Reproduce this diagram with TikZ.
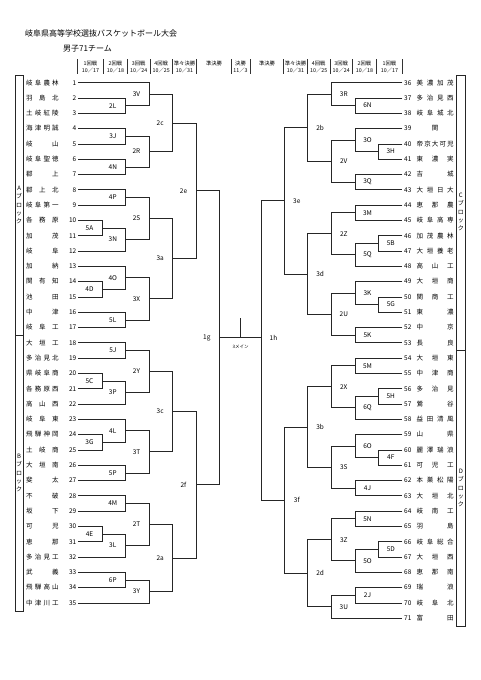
\documentclass[tikz,border=0pt]{standalone}
\usepackage{fontspec}
\newfontfamily\jp{Noto Sans CJK JP}
\usetikzlibrary{calc}
\newcommand\hf{\hfill}
\newcommand\fsz[1]{\fontsize{#1}{#1}\selectfont}
\newcommand\lteam[2]{%
  \pgfmathsetmacro\ty{82.7+15.3*(#1-1)}%
  \coordinate (t#1) at (78,\ty);
  \node[tn,anchor=east] (n#1) at (76.5,\ty) {#1};
  \node[tn,anchor=west] (a#1) at (26,\ty) {\makebox[32.5pt][s]{#2}};
}
\newcommand\rteam[2]{%
  \pgfmathsetmacro\ty{82.7+15.3*(#1-36)}%
  \coordinate (t#1) at (402.3,\ty);
  \node[tn,anchor=west] (n#1) at (404,\ty) {#1};
  \node[tn,anchor=west] (a#1) at (416.5,\ty) {\makebox[37pt][s]{#2}};
}
\newcommand\bkL[4]{%
  \coordinate (#1-m) at ($(#3)!0.5!(#4)$);
  \coordinate (#1) at (#1-m -| #2);
  \draw[br] (#3) -- (#3 -| #2) -- (#4 -| #2) -- (#4);
  \node[lbl] (#1-l) at ($(#1)+(-12.5,0)$) {#1};
}
\newcommand\bkR[4]{%
  \coordinate (#1-m) at ($(#3)!0.5!(#4)$);
  \coordinate (#1) at (#1-m -| #2);
  \draw[br] (#3) -- (#3 -| #2) -- (#4 -| #2) -- (#4);
  \node[lbl] (#1-l) at ($(#1)+(12.5,0)$) {#1};
}
\begin{document}
\begin{tikzpicture}[x=1pt,y=-1pt,
  br/.style={line width=0.7pt,draw=black!85},
  boxl/.style={line width=0.7pt,draw=black!85},
  sepl/.style={line width=0.45pt,draw=black!80},
  tn/.style={font=\jp\fsz{6.5}, inner sep=0pt, text height=5.6pt, text depth=0.9pt},
  lbl/.style={font=\jp\fsz{6.5}, inner sep=0pt},
  hd/.style={font=\jp\fsz{5.3}, inner sep=0pt},
  blk/.style={font=\jp\fontsize{6}{8.4}\selectfont, inner sep=0pt, align=center},
  ttl/.style={font=\jp\fsz{8}, inner sep=0pt, anchor=west}]
\useasboundingbox (0,0) rectangle (481,680);
\fill[white] (0,0) rectangle (481,680);

% titles
\node[ttl] (title) at (25,33.5) {岐阜県高等学校選抜バスケットボール大会};
\node[ttl] (sub) at (63,49) {男子71チーム};

% header
\foreach \x in {77.5,103.5,127.5,150,172.5,196.5,231,250,283.5,307.5,330,352.5,376.5,402.5}
  \draw[sepl] (\x,59) -- (\x,74);
\node[hd] (h1) at (90.5,63) {1回戦};
\node[hd] (h2) at (115.5,63) {2回戦};
\node[hd] (h3) at (138.75,63) {3回戦};
\node[hd] (h4) at (161.25,63) {4回戦};
\node[hd] (h5) at (184.5,63) {準々決勝};
\node[hd] (d1) at (90.5,70.5) {10／17};
\node[hd] (d2) at (115.5,70.5) {10／18};
\node[hd] (d3) at (138.75,70.5) {10／24};
\node[hd] (d4) at (161.25,70.5) {10／25};
\node[hd] (d5) at (184.5,70.5) {10／31};
\node[hd] (hsl) at (214,63) {準決勝};
\node[hd] (hf) at (240.5,63) {決勝};
\node[hd] (df) at (240.5,70.5) {11／3};
\node[hd] (hsr) at (267,63) {準決勝};
\node[hd] (r5) at (295.5,63) {準々決勝};
\node[hd] (r4) at (318.75,63) {4回戦};
\node[hd] (r3) at (341.25,63) {3回戦};
\node[hd] (r2) at (364.5,63) {2回戦};
\node[hd] (r1) at (389.5,63) {1回戦};
\node[hd] (e5) at (295.5,70.5) {10／31};
\node[hd] (e4) at (318.75,70.5) {10／25};
\node[hd] (e3) at (341.25,70.5) {10／24};
\node[hd] (e2) at (364.5,70.5) {10／18};
\node[hd] (e1) at (389.5,70.5) {10／17};

% block boxes
\draw[boxl] (15,75) rectangle (23.4,335);
\draw[boxl] (15,335) rectangle (23.4,611);
\draw[boxl] (456.7,75) rectangle (465.1,350.5);
\draw[boxl] (456.7,350.5) rectangle (465.1,626);
\node[blk] (bA) at (19.2,205) {A\\ブ\\ロ\\ッ\\ク};
\node[blk] (bB) at (19.2,473) {B\\ブ\\ロ\\ッ\\ク};
\node[blk] (bC) at (460.9,212) {C\\ブ\\ロ\\ッ\\ク};
\node[blk] (bD) at (460.9,488) {D\\ブ\\ロ\\ッ\\ク};

% columns
\coordinate (L1) at (102,0);
\coordinate (L2) at (125.3,0);
\coordinate (L3) at (149,0);
\coordinate (L4) at (172.7,0);
\coordinate (L5) at (196,0);
\coordinate (L6) at (219.3,0);
\coordinate (R1) at (378.3,0);
\coordinate (R2) at (355,0);
\coordinate (R3) at (331.3,0);
\coordinate (R4) at (307.6,0);
\coordinate (R5) at (284.3,0);
\coordinate (R6) at (261,0);

% left teams
\lteam{1}{岐\hf 阜\hf 農\hf 林}
\lteam{2}{羽\hf 島\hf 北}
\lteam{3}{土\hf 岐\hf 紅\hf 陵}
\lteam{4}{海\hf 津\hf 明\hf 誠}
\lteam{5}{岐\hf 山}
\lteam{6}{岐\hf 阜\hf 聖\hf 徳}
\lteam{7}{郡\hf 上}
\lteam{8}{郡\hf 上\hf 北}
\lteam{9}{岐\hf 阜\hf 第\hf 一}
\lteam{10}{各\hf 務\hf 原}
\lteam{11}{加\hf 茂}
\lteam{12}{岐\hf 阜}
\lteam{13}{加\hf 納}
\lteam{14}{関\hf 有\hf 知}
\lteam{15}{池\hf 田}
\lteam{16}{中\hf 津}
\lteam{17}{岐\hf 阜\hf 工}
\lteam{18}{大\hf 垣\hf 工}
\lteam{19}{多\hf 治\hf 見\hf 北}
\lteam{20}{県\hf 岐\hf 阜\hf 商}
\lteam{21}{各\hf 務\hf 原\hf 西}
\lteam{22}{高\hf 山\hf 西}
\lteam{23}{岐\hf 阜\hf 東}
\lteam{24}{飛\hf 騨\hf 神\hf 岡}
\lteam{25}{土\hf 岐\hf 商}
\lteam{26}{大\hf 垣\hf 南}
\lteam{27}{斐\hf 太}
\lteam{28}{不\hf 破}
\lteam{29}{坂\hf 下}
\lteam{30}{可\hf 児}
\lteam{31}{恵\hf 那}
\lteam{32}{多\hf 治\hf 見\hf 工}
\lteam{33}{武\hf 義}
\lteam{34}{飛\hf 騨\hf 高\hf 山}
\lteam{35}{中\hf 津\hf 川\hf 工}

% right teams
\rteam{36}{美\hf 濃\hf 加\hf 茂}
\rteam{37}{多\hf 治\hf 見\hf 西}
\rteam{38}{岐\hf 阜\hf 城\hf 北}
\rteam{39}{\hf 関\hf}
\rteam{40}{帝\hf 京\hf 大\hf 可\hf 児}
\rteam{41}{東\hf 濃\hf 実}
\rteam{42}{吉\hf 城}
\rteam{43}{大\hf 垣\hf 日\hf 大}
\rteam{44}{恵\hf 那\hf 農}
\rteam{45}{岐\hf 阜\hf 高\hf 専}
\rteam{46}{加\hf 茂\hf 農\hf 林}
\rteam{47}{大\hf 垣\hf 養\hf 老}
\rteam{48}{高\hf 山\hf 工}
\rteam{49}{大\hf 垣\hf 商}
\rteam{50}{関\hf 商\hf 工}
\rteam{51}{東\hf 濃}
\rteam{52}{中\hf 京}
\rteam{53}{長\hf 良}
\rteam{54}{大\hf 垣\hf 東}
\rteam{55}{中\hf 津\hf 商}
\rteam{56}{多\hf 治\hf 見}
\rteam{57}{鶯\hf 谷}
\rteam{58}{益\hf 田\hf 清\hf 風}
\rteam{59}{山\hf 県}
\rteam{60}{麗\hf 澤\hf 瑞\hf 浪}
\rteam{61}{可\hf 児\hf 工}
\rteam{62}{本\hf 巣\hf 松\hf 陽}
\rteam{63}{大\hf 垣\hf 北}
\rteam{64}{岐\hf 南\hf 工}
\rteam{65}{羽\hf 島}
\rteam{66}{岐\hf 阜\hf 総\hf 合}
\rteam{67}{大\hf 垣\hf 西}
\rteam{68}{恵\hf 那\hf 南}
\rteam{69}{瑞\hf 浪}
\rteam{70}{岐\hf 阜\hf 北}
\rteam{71}{富\hf 田}

% left bracket
\bkL{2L}{L2}{t2}{t3}
\bkL{3V}{L3}{t1}{2L}
\bkL{3J}{L2}{t4}{t5}
\bkL{4N}{L2}{t6}{t7}
\bkL{2R}{L3}{3J}{4N}
\bkL{2c}{L4}{3V}{2R}
\bkL{4P}{L2}{t8}{t9}
\bkL{5A}{L1}{t10}{t11}
\bkL{3N}{L2}{5A}{t12}
\bkL{2S}{L3}{4P}{3N}
\bkL{4D}{L1}{t14}{t15}
\bkL{4O}{L2}{t13}{4D}
\bkL{5L}{L2}{t16}{t17}
\bkL{3X}{L3}{4O}{5L}
\bkL{3a}{L4}{2S}{3X}
\bkL{2e}{L5}{2c}{3a}
\bkL{5J}{L2}{t18}{t19}
\bkL{5C}{L1}{t20}{t21}
\bkL{3P}{L2}{5C}{t22}
\bkL{2Y}{L3}{5J}{3P}
\bkL{3G}{L1}{t24}{t25}
\bkL{4L}{L2}{t23}{3G}
\bkL{5P}{L2}{t26}{t27}
\bkL{3T}{L3}{4L}{5P}
\bkL{3c}{L4}{2Y}{3T}
\bkL{4M}{L2}{t28}{t29}
\bkL{4E}{L1}{t30}{t31}
\bkL{3L}{L2}{4E}{t32}
\bkL{2T}{L3}{4M}{3L}
\bkL{6P}{L2}{t33}{t34}
\bkL{3Y}{L3}{6P}{t35}
\bkL{2a}{L4}{2T}{3Y}
\bkL{2f}{L5}{3c}{2a}
\bkL{1g}{L6}{2e}{2f}

% right bracket
\bkR{6N}{R2}{t37}{t38}
\bkR{3R}{R3}{t36}{6N}
\bkR{3H}{R1}{t40}{t41}
\bkR{3O}{R2}{t39}{3H}
\bkR{3Q}{R2}{t42}{t43}
\bkR{2V}{R3}{3O}{3Q}
\bkR{2b}{R4}{3R}{2V}
\bkR{3M}{R2}{t44}{t45}
\bkR{5B}{R1}{t46}{t47}
\bkR{5Q}{R2}{5B}{t48}
\bkR{2Z}{R3}{3M}{5Q}
\bkR{5G}{R1}{t50}{t51}
\bkR{3K}{R2}{t49}{5G}
\bkR{5K}{R2}{t52}{t53}
\bkR{2U}{R3}{3K}{5K}
\bkR{3d}{R4}{2Z}{2U}
\bkR{3e}{R5}{2b}{3d}
\bkR{5M}{R2}{t54}{t55}
\bkR{5H}{R1}{t56}{t57}
\bkR{6Q}{R2}{5H}{t58}
\bkR{2X}{R3}{5M}{6Q}
\bkR{4F}{R1}{t60}{t61}
\bkR{6O}{R2}{t59}{4F}
\bkR{4J}{R2}{t62}{t63}
\bkR{3S}{R3}{6O}{4J}
\bkR{3b}{R4}{2X}{3S}
\bkR{5N}{R2}{t64}{t65}
\bkR{5D}{R1}{t66}{t67}
\bkR{5O}{R2}{5D}{t68}
\bkR{3Z}{R3}{5N}{5O}
\bkR{2J}{R2}{t69}{t70}
\bkR{3U}{R3}{2J}{t71}
\bkR{2d}{R4}{3Z}{3U}
\bkR{3f}{R5}{3b}{2d}

% final
\draw[br] (3e) -- (3e -| R6) -- (3f -| R6) -- (3f);
\coordinate (1h) at (1g -| R6);
\node[lbl] (1h-l) at ($(1h)+(12.5,0)$) {1h};
\draw[br] (1g) -- (1h);
\coordinate (tk) at (240.5,318);
\draw[br] (tk) -- (tk |- 1g);
\node[font=\jp\fsz{4.5}, inner sep=0pt] (m3) at (240.5,347) {3メイン};
\end{tikzpicture}
\end{document}
